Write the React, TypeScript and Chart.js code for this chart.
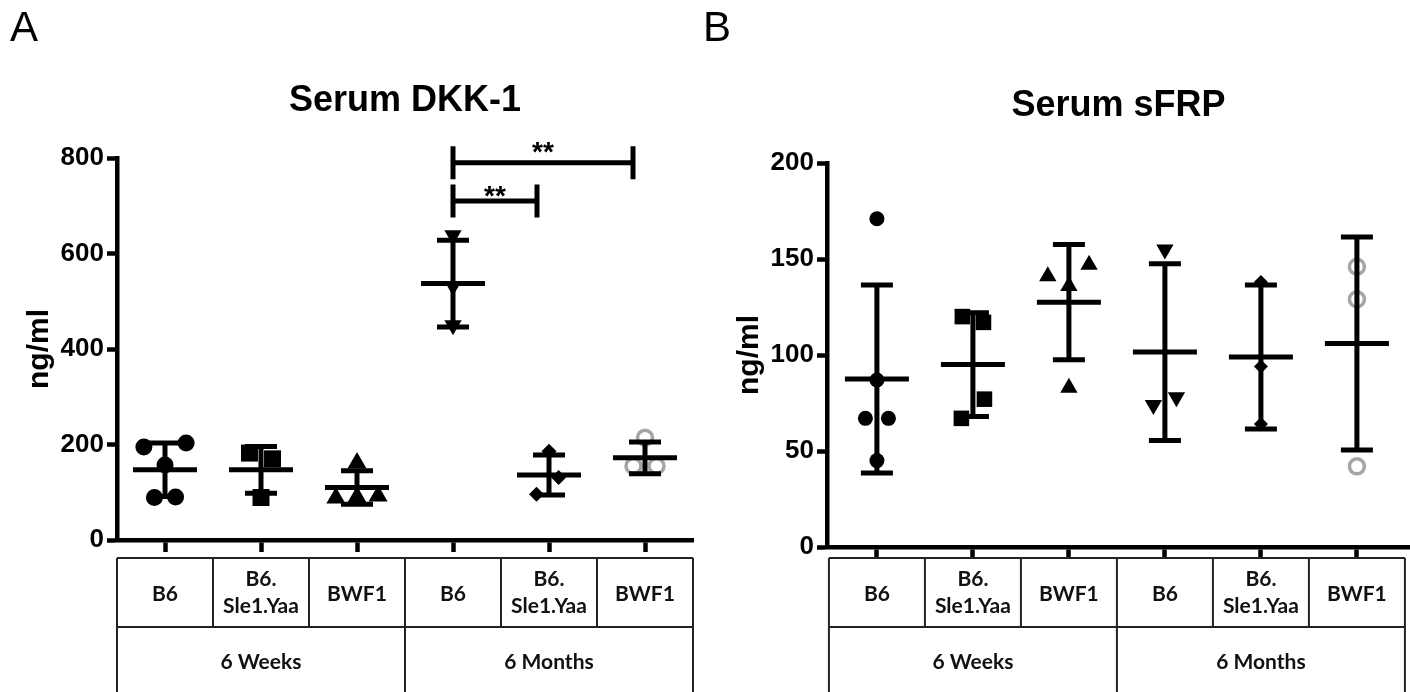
import React, { useEffect, useRef } from "react";
import { Chart, registerables } from "chart.js";

Chart.register(...registerables);

// ---------------- categories ----------------
const strainLabels: string[][] = [
  ["B6"],
  ["B6.", "Sle1.Yaa"],
  ["BWF1"],
  ["B6"],
  ["B6.", "Sle1.Yaa"],
  ["BWF1"],
];
const ageLabels: string[] = ["6 Weeks", "6 Months"];
const ageGroupCount: number[] = [3, 3];
const yAxisTitle = "ng/ml";

// ---------------- Serum DKK-1 (ng/ml) ----------------
const dkkTitle = "Serum DKK-1";
const dkkYMax = 800;
const dkkYStep = 200;
const dkk6wB6: number[] = [195, 203, 157, 89, 90];
const dkk6wSle: number[] = [182, 170, 89];
const dkk6wBWF1: number[] = [161, 88, 90, 92];
const dkk6mB6: number[] = [638, 532, 450];
const dkk6mSle: number[] = [186, 131, 96];
const dkk6mBWF1: number[] = [214, 155, 155];
const dkkMean: number[] = [147, 147, 110, 537, 136, 172];
const dkkSD: number[] = [56, 49, 35, 91, 42, 33];
// significance brackets
const dkkSigFrom: number[] = [3, 3];
const dkkSigTo: number[] = [4, 5];
const dkkSigLevel: number[] = [710, 790];
const dkkSigText: string[] = ["**", "**"];
// horizontal spread of overlapping points (category units)
const dkkSpread: number[][] = [
  [-0.22, 0.22, 0, -0.11, 0.11],
  [-0.12, 0.12, 0],
  [0, -0.22, 0, 0.22],
  [0, 0, 0],
  [0, 0.1, -0.13],
  [0, -0.12, 0.12],
];

// ---------------- Serum sFRP (ng/ml) ----------------
const sfrpTitle = "Serum sFRP";
const sfrpYMax = 200;
const sfrpYStep = 50;
const sfrp6wB6: number[] = [171, 87, 67, 67, 45];
const sfrp6wSle: number[] = [120, 117, 77, 67];
const sfrp6wBWF1: number[] = [141, 147, 136, 83];
const sfrp6mB6: number[] = [155, 74, 78];
const sfrp6mSle: number[] = [138, 94, 64];
const sfrp6mBWF1: number[] = [146, 129, 42];
const sfrpMean: number[] = [87.5, 95, 127.5, 101.5, 99, 106];
const sfrpSD: number[] = [49, 27, 30, 46, 37.5, 55.5];
const sfrpSpread: number[][] = [
  [0, 0, -0.12, 0.12, 0],
  [-0.11, 0.11, 0.12, -0.12],
  [-0.22, 0.21, 0, 0],
  [0, -0.12, 0.12],
  [0, 0, 0],
  [0, 0, 0],
];

// ---------------- styling ----------------
const GRAY = "#a5a5a5";
const AXIS_FONT = "'Liberation Sans', Arial, Helvetica, sans-serif";
const TABLE_FONT = "Lato, 'Open Sans', 'Liberation Sans', sans-serif";
const SIG_TEXT_GAP: number[] = [8, 14];
const SIG_END_INSET = 12;

type Marker = { style: string; radius: number; rotation?: number; open?: boolean };

const dkkMarkers: Marker[] = [
  { style: "circle", radius: 8.5 },
  { style: "rect", radius: 12 },
  { style: "triangle", radius: 11 },
  { style: "triangle", radius: 10, rotation: 180 },
  { style: "rectRot", radius: 7.5 },
  { style: "circle", radius: 7.5, open: true },
];
const sfrpMarkers: Marker[] = [
  { style: "circle", radius: 7.5 },
  { style: "rect", radius: 11 },
  { style: "triangle", radius: 10 },
  { style: "triangle", radius: 10, rotation: 180 },
  { style: "rectRot", radius: 7 },
  { style: "circle", radius: 7.5, open: true },
];

interface PanelSpec {
  title: string;
  groups: number[][];
  spread: number[][];
  mean: number[];
  sd: number[];
  yMax: number;
  yStep: number;
  markers: Marker[];
  width: number;
  xMin: number;
  xMax: number;
  plotRight: number;
  plotTop: number;
  plotBottom: number;
  titleY: number;
  xTickLen: number;
  sig?: { from: number[]; to: number[]; level: number[]; text: string[] };
}

const TABLE_TOP = 558;
const TABLE_ROW = 627;
const CANVAS_H = 692;

function makePlugins(p: PanelSpec) {
  const errorBars = {
    id: "meanSd",
    afterDatasetsDraw(chart: any) {
      const { ctx } = chart;
      const x = chart.scales.x;
      const y = chart.scales.y;
      ctx.save();
      ctx.strokeStyle = "#000";
      ctx.lineWidth = 5;
      ctx.lineCap = "butt";
      p.mean.forEach((m, g) => {
        const cx = x.getPixelForValue(g);
        const yt = y.getPixelForValue(m + p.sd[g]);
        const yb = y.getPixelForValue(m - p.sd[g]);
        const ym = y.getPixelForValue(m);
        ctx.beginPath();
        ctx.moveTo(cx, yt - 2.5);
        ctx.lineTo(cx, yb + 2.5);
        ctx.moveTo(cx - 16, yt);
        ctx.lineTo(cx + 16, yt);
        ctx.moveTo(cx - 16, yb);
        ctx.lineTo(cx + 16, yb);
        ctx.moveTo(cx - 32, ym);
        ctx.lineTo(cx + 32, ym);
        ctx.stroke();
      });
      ctx.restore();
    },
  };

  const extras = {
    id: "tableAndSig",
    afterDraw(chart: any) {
      const { ctx } = chart;
      const x = chart.scales.x;
      const y = chart.scales.y;
      ctx.save();
      // significance brackets
      if (p.sig) {
        ctx.strokeStyle = "#000";
        ctx.fillStyle = "#000";
        ctx.lineWidth = 5;
        p.sig.from.forEach((f, k) => {
          const x1 = x.getPixelForValue(f);
          const x2 = x.getPixelForValue(p.sig!.to[k]) - SIG_END_INSET;
          const yy = y.getPixelForValue(p.sig!.level[k]);
          ctx.beginPath();
          ctx.moveTo(x1, yy);
          ctx.lineTo(x2, yy);
          ctx.moveTo(x1, yy - 16.5);
          ctx.lineTo(x1, yy + 16.5);
          ctx.moveTo(x2, yy - 16.5);
          ctx.lineTo(x2, yy + 16.5);
          ctx.stroke();
          ctx.font = `bold 28px ${AXIS_FONT}`;
          ctx.textAlign = "center";
          ctx.textBaseline = "alphabetic";
          ctx.fillText(p.sig!.text[k], (x1 + x2) / 2, yy + 12 - SIG_TEXT_GAP[k]);
        });
      }
      // category table
      const n = strainLabels.length;
      const edges: number[] = [];
      for (let i = 0; i <= n; i++) edges.push(x.getPixelForValue(i - 0.5));
      ctx.strokeStyle = "#222";
      ctx.lineWidth = 2;
      ctx.beginPath();
      ctx.moveTo(edges[0], TABLE_TOP);
      ctx.lineTo(edges[n], TABLE_TOP);
      ctx.moveTo(edges[0], TABLE_ROW);
      ctx.lineTo(edges[n], TABLE_ROW);
      edges.forEach((e) => {
        ctx.moveTo(e, TABLE_TOP);
        ctx.lineTo(e, TABLE_ROW);
      });
      let acc = 0;
      const bounds = [0];
      ageGroupCount.forEach((c) => {
        acc += c;
        bounds.push(acc);
      });
      bounds.forEach((b) => {
        ctx.moveTo(edges[b], TABLE_ROW);
        ctx.lineTo(edges[b], CANVAS_H + 5);
      });
      ctx.stroke();

      ctx.fillStyle = "#111";
      ctx.font = `bold 21px ${TABLE_FONT}`;
      ctx.textAlign = "center";
      ctx.textBaseline = "middle";
      strainLabels.forEach((lines, i) => {
        const cx = x.getPixelForValue(i);
        if (lines.length === 1) {
          ctx.fillText(lines[0], cx, 594);
        } else {
          ctx.fillText(lines[0], cx, 579);
          ctx.fillText(lines[1], cx, 606);
        }
      });
      let start = 0;
      ageLabels.forEach((lab, k) => {
        const c = ageGroupCount[k];
        const cx = (x.getPixelForValue(start) + x.getPixelForValue(start + c - 1)) / 2;
        ctx.fillText(lab, cx, 662);
        start += c;
      });
      ctx.restore();
    },
  };
  return [errorBars, extras];
}

function buildConfig(p: PanelSpec): any {
  const datasets = p.groups.map((vals, g) => {
    const m = p.markers[g];
    return {
      type: "scatter",
      label: strainLabels[g].join(" "),
      data: vals.map((v, k) => ({ x: g + p.spread[g][k], y: v })),
      pointStyle: m.style,
      pointRadius: m.radius,
      pointRotation: m.rotation || 0,
      pointBackgroundColor: m.open ? "rgba(0,0,0,0)" : "#000",
      pointBorderColor: m.open ? GRAY : "#000",
      pointBorderWidth: m.open ? 3.5 : 0,
      showLine: false,
      clip: false,
    };
  });
  const titleSize = 36;
  const titleLine = titleSize * 1.2;
  const titlePadTop = p.titleY - titleLine / 2;
  const titlePadBottom = p.plotTop - titlePadTop - titleLine;
  return {
    type: "scatter",
    data: { datasets },
    options: {
      animation: false,
      responsive: false,
      events: [],
      layout: {
        padding: { left: 0, right: p.width - p.plotRight, top: 0, bottom: CANVAS_H - p.plotBottom },
      },
      plugins: {
        legend: { display: false },
        tooltip: { enabled: false },
        title: {
          display: true,
          text: p.title,
          fullSize: false,
          color: "#000",
          font: { family: AXIS_FONT, size: titleSize, weight: "bold", lineHeight: 1.2 },
          padding: { top: titlePadTop, bottom: titlePadBottom },
        },
      },
      scales: {
        x: {
          type: "linear",
          min: p.xMin,
          max: p.xMax,
          afterBuildTicks: (s: any) => {
            s.ticks = strainLabels.map((_, i) => ({ value: i }));
          },
          afterFit: (s: any) => {
            s.height = 0;
          },
          ticks: { display: false },
          grid: {
            display: true,
            drawOnChartArea: false,
            drawTicks: true,
            tickLength: p.xTickLen,
            tickWidth: 4.5,
            tickColor: "#000",
          },
          border: { display: true, color: "#000", width: 4.5 },
        },
        y: {
          type: "linear",
          min: 0,
          max: p.yMax,
          afterFit: (s: any) => {
            s.width = 117;
          },
          ticks: {
            stepSize: p.yStep,
            color: "#000",
            padding: 3,
            font: { family: AXIS_FONT, size: 26, weight: "bold" },
          },
          grid: {
            display: true,
            drawOnChartArea: false,
            drawTicks: true,
            tickLength: 10,
            tickWidth: 4.5,
            tickColor: "#000",
          },
          border: { display: true, color: "#000", width: 4.5 },
          title: {
            display: true,
            text: yAxisTitle,
            color: "#000",
            font: { family: AXIS_FONT, size: 30, weight: "bold", lineHeight: 1.2 },
            padding: { top: 22, bottom: 0 },
          },
        },
      },
    },
    plugins: makePlugins(p),
  };
}

const dkkPanel: PanelSpec = {
  title: dkkTitle,
  groups: [dkk6wB6, dkk6wSle, dkk6wBWF1, dkk6mB6, dkk6mSle, dkk6mBWF1],
  spread: dkkSpread,
  mean: dkkMean,
  sd: dkkSD,
  yMax: dkkYMax,
  yStep: dkkYStep,
  markers: dkkMarkers,
  width: 705,
  xMin: -0.5,
  xMax: 5.5,
  plotRight: 693,
  plotTop: 158,
  plotBottom: 540,
  titleY: 101,
  xTickLen: 12,
  sig: { from: dkkSigFrom, to: dkkSigTo, level: dkkSigLevel, text: dkkSigText },
};

const sfrpPanel: PanelSpec = {
  title: sfrpTitle,
  groups: [sfrp6wB6, sfrp6wSle, sfrp6wBWF1, sfrp6mB6, sfrp6mSle, sfrp6mBWF1],
  spread: sfrpSpread,
  mean: sfrpMean,
  sd: sfrpSD,
  yMax: sfrpYMax,
  yStep: sfrpYStep,
  markers: sfrpMarkers,
  width: 712,
  xMin: -0.52,
  xMax: 5.553,
  plotRight: 700,
  plotTop: 163,
  plotBottom: 547,
  titleY: 106,
  xTickLen: 10,
};

function Panel({ spec, left }: { spec: PanelSpec; left: number }) {
  const ref = useRef<HTMLCanvasElement | null>(null);
  useEffect(() => {
    if (!ref.current) return;
    const chart = new Chart(ref.current, buildConfig(spec));
    return () => chart.destroy();
  }, [spec]);
  return (
    <canvas
      ref={ref}
      width={spec.width}
      height={CANVAS_H}
      style={{ position: "absolute", left, top: 0, width: spec.width, height: CANVAS_H }}
    />
  );
}

const letterStyle: React.CSSProperties = {
  position: "absolute",
  top: 6,
  fontFamily: "'Liberation Sans Narrow', 'Liberation Sans', Arial, sans-serif",
  fontSize: 42,
  lineHeight: "42px",
  fontWeight: 400,
  color: "#000",
};

export default function App() {
  return (
    <div
      style={{
        position: "fixed",
        left: 0,
        top: 0,
        width: 1410,
        height: 692,
        background: "#fff",
        overflow: "hidden",
      }}
    >
      <Panel spec={dkkPanel} left={0} />
      <Panel spec={sfrpPanel} left={710} />
      <div style={{ ...letterStyle, left: 10 }}>A</div>
      <div style={{ ...letterStyle, left: 703 }}>B</div>
    </div>
  );
}
